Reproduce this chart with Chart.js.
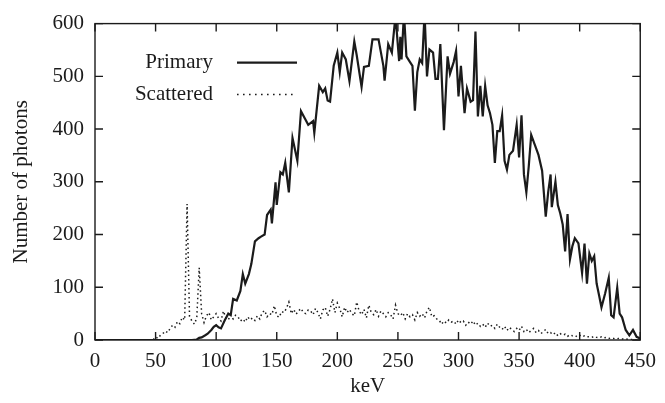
<!DOCTYPE html>
<html>
<head>
<meta charset="utf-8">
<script src="https://cdn.jsdelivr.net/npm/chart.js@4"></script>
<style>
  html, body { margin:0; padding:0; background:#fff; }
  #wrap { width:665px; height:403px; }
</style>
</head>
<body>
<div id="wrap"><canvas id="spectrum" width="665" height="403"></canvas></div>
<script>
/* =========================
   DATA
========================= */
const xTicks = [0, 50, 100, 150, 200, 250, 300, 350, 400, 450]
const yTicks = [0, 100, 200, 300, 400, 500, 600]

const primaryKeV = [
  0, 80, 84, 86, 88, 91, 93, 96, 98, 100, 102, 104, 107, 110, 112, 114, 117, 120, 122, 124,
  127, 129, 132, 135, 137, 140, 142, 145, 146, 149, 150, 153, 155, 157, 160, 162, 163, 167, 170, 173,
  176, 180, 181, 185, 188, 190, 192, 194, 197, 200, 202, 204, 207, 210, 214, 216, 220, 222, 226, 229,
  234, 236, 238, 239, 242, 245, 248, 251, 252, 253, 255, 257, 260, 262, 264, 266, 268, 270, 272, 274,
  276, 279, 281, 283, 285, 288, 291, 293, 296, 298, 300, 302, 305, 307, 310, 312, 314, 316, 318, 320,
  322, 324, 326, 328, 330, 332, 334, 336, 338, 340, 342, 345, 348, 350, 352, 354, 356, 358, 360, 363,
  366, 369, 372, 374, 376, 377, 380, 382, 384, 386, 388, 390, 392, 394, 396, 399, 402, 404, 406, 408,
  410, 412, 414, 416, 418, 421, 424, 426, 428, 431, 433, 435, 438, 441, 444, 447, 449, 450
]
const primaryCounts = [
  0, 0, 1, 4, 5, 9, 12, 19, 25, 28, 24, 22, 37, 50, 47, 78, 75, 93, 125, 107,
  125, 144, 187, 193, 196, 200, 237, 247, 221, 299, 256, 318, 314, 336, 280, 349, 383, 340, 434, 421,
  408, 415, 393, 482, 470, 477, 454, 452, 520, 545, 508, 545, 532, 491, 566, 540, 480, 518, 520, 570,
  570, 545, 520, 492, 561, 545, 615, 529, 575, 532, 620, 538, 527, 520, 435, 508, 532, 525, 620, 500,
  551, 545, 495, 495, 561, 398, 538, 505, 527, 548, 462, 520, 430, 477, 452, 455, 585, 424, 482, 424,
  482, 445, 430, 408, 336, 396, 396, 426, 340, 323, 351, 359, 408, 346, 426, 314, 280, 330, 389, 370,
  351, 321, 234, 280, 314, 252, 300, 256, 240, 219, 168, 239, 153, 178, 193, 183, 127, 183, 107, 164,
  150, 159, 107, 85, 62, 88, 118, 47, 43, 99, 50, 43, 19, 9, 19, 6, 4, 2
]

const scatteredKeV = [
  0, 48, 50, 52, 54, 56, 58, 60, 62, 64, 66, 68, 70, 72, 74, 76, 78, 80, 82, 84,
  86, 88, 90, 92, 94, 96, 98, 100, 102, 104, 106, 108, 110, 112, 114, 116, 118, 120, 122, 124,
  126, 128, 130, 132, 134, 136, 138, 140, 142, 144, 146, 148, 150, 152, 154, 156, 158, 160, 162, 164,
  166, 168, 170, 172, 174, 176, 178, 180, 182, 184, 186, 188, 190, 192, 194, 196, 198, 200, 202, 204,
  206, 208, 210, 212, 214, 216, 218, 220, 222, 224, 226, 228, 230, 232, 234, 236, 238, 240, 242, 244,
  246, 248, 250, 252, 254, 256, 258, 260, 262, 264, 266, 268, 270, 272, 274, 276, 278, 280, 282, 284,
  286, 288, 290, 292, 294, 296, 298, 300, 302, 304, 306, 308, 310, 312, 314, 316, 318, 320, 322, 324,
  326, 328, 330, 332, 334, 336, 338, 340, 342, 344, 346, 348, 350, 352, 354, 356, 358, 360, 362, 364,
  366, 368, 370, 372, 374, 376, 378, 380, 382, 384, 386, 388, 390, 392, 394, 396, 398, 400, 402, 404,
  406, 408, 410, 412, 414, 416, 418, 420, 422, 424, 426, 428, 430, 432, 434, 436, 438, 440, 442, 444,
  446, 448, 450
]
const scatteredCounts = [
  0, 0, 6, 3, 9, 12, 17, 14, 22, 28, 24, 35, 31, 43, 38, 258, 45, 36, 30, 42,
  137, 50, 33, 46, 52, 38, 44, 50, 41, 36, 55, 42, 38, 48, 40, 47, 44, 36, 40, 34,
  44, 38, 42, 37, 46, 40, 52, 56, 44, 50, 48, 65, 46, 43, 54, 52, 60, 72, 50, 58,
  49, 55, 60, 52, 50, 57, 55, 48, 60, 52, 40, 57, 62, 45, 58, 78, 52, 70, 60, 44,
  62, 52, 58, 50, 46, 72, 55, 48, 58, 42, 66, 52, 48, 58, 45, 55, 50, 44, 52, 48,
  40, 66, 50, 46, 52, 40, 50, 44, 48, 38, 52, 45, 50, 42, 55, 62, 44, 46, 40, 38,
  30, 36, 32, 38, 34, 36, 30, 38, 33, 36, 28, 34, 30, 36, 28, 32, 26, 30, 24, 32,
  26, 28, 22, 30, 24, 20, 26, 18, 24, 20, 16, 22, 18, 26, 16, 20, 14, 18, 22, 14,
  18, 12, 16, 20, 12, 14, 10, 14, 8, 12, 9, 11, 7, 10, 8, 9, 6, 9, 6, 8,
  6, 6, 5, 7, 5, 4, 6, 4, 5, 3, 4, 3, 2, 3, 2, 2, 1, 2, 1, 1,
  0, 0, 0
]

const seriesNames = ["Primary", "Scattered"]

/* =========================
   STYLE
========================= */
const INK = "#1b1b1b"
const FONT = "'Liberation Serif', 'Times New Roman', serif"

function pts(xs, ys){
  return xs.map((x, i) => ({ x: x, y: ys[i] }))
}

/* frame, inward ticks on all four sides, and the key */
const gnuplotFrame = {
  id: "gnuplotFrame",
  afterDatasetsDraw(chart){
    const { ctx, chartArea: a, scales: { x, y } } = chart
    const tl = 8
    ctx.save()
    ctx.strokeStyle = INK
    ctx.lineWidth = 1.4
    ctx.strokeRect(a.left, a.top, a.right - a.left, a.bottom - a.top)

    ctx.beginPath()
    xTicks.forEach(v => {
      const px = x.getPixelForValue(v)
      ctx.moveTo(px, a.bottom); ctx.lineTo(px, a.bottom - tl)
      ctx.moveTo(px, a.top); ctx.lineTo(px, a.top + tl)
    })
    yTicks.forEach(v => {
      const py = y.getPixelForValue(v)
      ctx.moveTo(a.left, py); ctx.lineTo(a.left + tl, py)
      ctx.moveTo(a.right, py); ctx.lineTo(a.right - tl, py)
    })
    ctx.stroke()

    // key
    ctx.font = "21px " + FONT
    ctx.fillStyle = INK
    ctx.textAlign = "right"
    ctx.textBaseline = "middle"
    const kx = a.left + 118
    const ky = [a.top + 39, a.top + 71]
    chart.data.datasets.forEach((ds, i) => {
      ctx.fillText(ds.label, kx, ky[i])
      ctx.beginPath()
      ctx.lineWidth = ds.borderWidth
      ctx.setLineDash(i === 1 ? [1.6, 4.4] : [])
      ctx.moveTo(kx + 24, ky[i])
      ctx.lineTo(kx + 84, ky[i])
      ctx.stroke()
    })
    ctx.restore()
  }
}

/* =========================
   CHART
========================= */
new Chart(document.getElementById("spectrum"), {
  type: "line",
  data: {
    datasets: [
      {
        label: seriesNames[0],
        data: pts(primaryKeV, primaryCounts),
        borderColor: INK,
        borderWidth: 2.2,
        pointRadius: 0,
        tension: 0
      },
      {
        label: seriesNames[1],
        data: pts(scatteredKeV, scatteredCounts),
        borderColor: INK,
        borderWidth: 1.5,
        borderDash: [1.5, 3],
        pointRadius: 0,
        tension: 0
      }
    ]
  },
  options: {
    responsive: false,
    animation: false,
    layout: { padding: { top: 19, right: 19, left: 0, bottom: 0 } },
    plugins: {
      legend: { display: false },
      tooltip: { enabled: false }
    },
    scales: {
      x: {
        type: "linear",
        min: 0,
        max: 450,
        afterFit(s){ s.height = 63 },
        afterBuildTicks(s){ s.ticks = xTicks.map(v => ({ value: v })) },
        grid: { display: false, drawTicks: false },
        border: { display: false },
        ticks: { color: INK, padding: 9, maxRotation: 0, font: { family: FONT, size: 21 } },
        title: { display: true, text: "keV", color: INK, padding: { top: 0, bottom: 4 }, font: { family: FONT, size: 21 } }
      },
      y: {
        min: 0,
        max: 600,
        afterFit(s){ s.width = 95 },
        afterBuildTicks(s){ s.ticks = yTicks.map(v => ({ value: v })) },
        grid: { display: false, drawTicks: false },
        border: { display: false },
        ticks: { color: INK, padding: 11, font: { family: FONT, size: 21 } },
        title: { display: true, text: "Number of photons", color: INK, padding: { top: 9, bottom: 0 }, font: { family: FONT, size: 21 } }
      }
    }
  },
  plugins: [gnuplotFrame]
})
</script>
</body>
</html>
